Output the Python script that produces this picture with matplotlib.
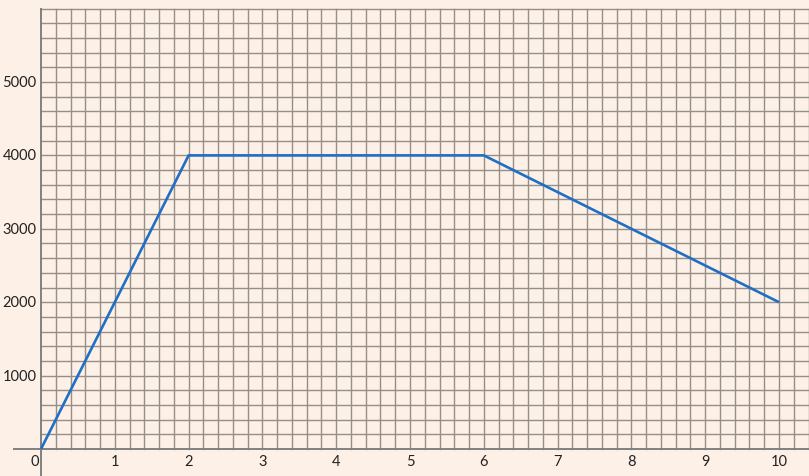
import matplotlib
matplotlib.use("Agg")
import matplotlib.pyplot as plt
import numpy as np

x_vals = [0, 2, 6, 10]
y_vals = [0, 4000, 4000, 2000]
x_ticks = [0, 1, 2, 3, 4, 5, 6, 7, 8, 9, 10]
y_ticks = [1000, 2000, 3000, 4000, 5000]

bg = "#FDF0E6"
fig = plt.figure(figsize=(8.09, 4.77), dpi=100, facecolor=bg)
ax = fig.add_axes([0, 0, 1, 1])
ax.set_facecolor(bg)
px_x = 73.8
px_y = 73.4 / 1000
ax.set_xlim(-41 / px_x, (809 - 41) / px_x)
ax.set_ylim(-(477 - 450) / px_y, 450 / px_y)
ax.axis("off")

xmax_grid = 10.4
ymax_grid = 6000
gcol = "#958f8a"
for gx in np.arange(0.2, xmax_grid + 0.01, 0.2):
    ax.plot([gx, gx], [0, ymax_grid], color=gcol, lw=1.0, zorder=1)
for gy in np.arange(200, ymax_grid + 1, 200):
    ax.plot([0, xmax_grid + 0.05], [gy, gy], color=gcol, lw=1.0, zorder=1)

# axes lines
ax.plot([-0.366, 10.45], [0, 0], color="#808080", lw=1.4, zorder=2)
ax.plot([0, 0], [-400, ymax_grid], color="#808080", lw=1.4, zorder=2)

ax.plot(x_vals, y_vals, color="#1F6FC5", lw=1.9, zorder=3, solid_capstyle="butt")

font = dict(family="Lato", fontsize=10.5, color="#222222")
for t in x_ticks:
    if t == 0:
        ax.text(-0.08, -160, "0", ha="center", va="center", **font)
    else:
        ax.text(t, -160, str(t), ha="center", va="center", **font)
for t in y_ticks:
    ax.text(-0.06, t, str(t), ha="right", va="center", **font)

fig.savefig("out.png", dpi=100, facecolor=bg)
